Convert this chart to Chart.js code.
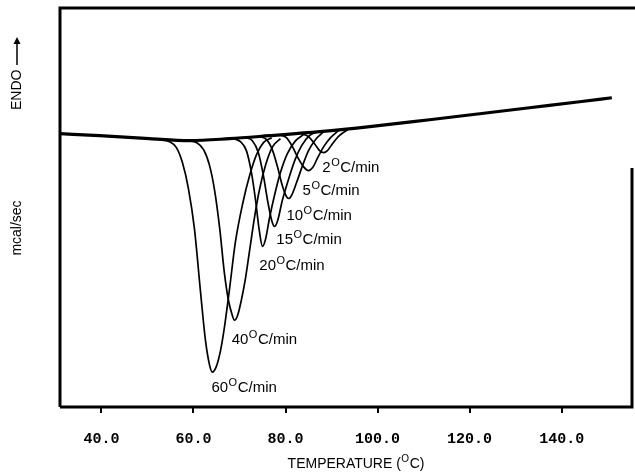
<!DOCTYPE html>
<html>
<head>
<meta charset="utf-8">
<script src="https://cdn.jsdelivr.net/npm/chart.js@4"></script>
<style>
html, body { margin: 0; padding: 0; background: #fff; }
</style>
</head>
<body>
<canvas id="dsc" width="635" height="474"></canvas>
<script>
// temperature axis ticks (deg C)
var tempTicks = [40, 60, 80, 100, 120, 140];

// common baseline (all runs overlap here)
var baseT = [30.9, 39.6, 50.4, 59.1, 67.8, 76.5, 87.4, 98.3, 111.3, 122.2, 133.0, 143.9, 150.9];
var baseY = [27.4, 27.2, 26.9, 26.7, 26.9, 27.2, 27.6, 28.1, 28.8, 29.4, 30.0, 30.6, 31.0];

// melting endotherms, one per heating rate
var peak60T = [52.6, 54.8, 56.3, 57.6, 58.9, 60.2, 61.5, 62.6, 63.5, 64.1, 65.0, 65.9, 66.7, 67.8, 69.1, 70.7, 72.2, 73.7, 75.2, 77.0];
var peak60Y = [26.8, 26.6, 26.0, 24.5, 21.9, 17.9, 11.7, 6.7, 4.2, 3.5, 4.1, 5.7, 7.9, 11.7, 16.5, 20.4, 23.2, 25.3, 26.5, 27.0];

var peak40T = [58.7, 60.7, 62.2, 63.5, 64.6, 65.7, 66.7, 67.6, 68.3, 68.9, 69.6, 70.4, 71.3, 72.2, 73.3, 74.3, 75.7, 77.2, 78.9];
var peak40Y = [26.7, 26.5, 25.8, 24.2, 21.7, 17.9, 13.5, 10.7, 9.4, 8.7, 9.2, 10.7, 12.9, 15.7, 19.1, 21.7, 24.3, 26.1, 26.9];

var peak20T = [68.7, 70.2, 71.5, 72.6, 73.5, 74.3, 75.0, 75.7, 76.5, 77.6, 78.9, 80.4, 82.2, 83.9];
var peak20Y = [26.9, 26.6, 25.7, 23.5, 20.7, 17.7, 16.1, 16.9, 18.9, 21.2, 23.5, 25.4, 26.7, 27.3];

var peak15T = [71.3, 72.8, 74.1, 75.2, 76.1, 77.0, 77.6, 78.3, 79.3, 80.7, 82.0, 83.5, 85.2, 87.0];
var peak15Y = [27.0, 26.7, 25.5, 23.2, 20.7, 18.7, 18.1, 18.7, 20.7, 22.9, 24.7, 26.2, 27.2, 27.6];

var peak10T = [74.3, 75.9, 77.2, 78.3, 79.3, 80.2, 80.7, 81.3, 82.4, 83.7, 85.0, 86.5, 88.3];
var peak10Y = [27.1, 26.8, 25.7, 24.0, 22.2, 21.1, 20.9, 21.2, 22.5, 24.2, 25.7, 26.8, 27.6];

var peak5T = [78.7, 80.2, 81.5, 82.8, 83.9, 85.0, 85.9, 87.0, 88.3, 89.8, 91.5];
var peak5Y = [27.3, 27.0, 26.1, 24.9, 24.1, 23.7, 24.0, 25.0, 26.1, 27.0, 27.7];

var peak2T = [83.5, 85.0, 86.3, 87.4, 88.3, 89.1, 90.2, 91.7, 93.5];
var peak2Y = [27.4, 27.1, 26.4, 25.7, 25.5, 25.7, 26.4, 27.2, 27.8];

// heating-rate labels and where they sit (T, signal)
var rateNames = ['2', '5', '10', '15', '20', '40', '60'];
var rateLabelAt = [[88.0, 24.0], [83.7, 21.7], [80.2, 19.2], [78.0, 16.8], [74.3, 14.1], [68.3, 6.7], [63.9, 1.9]];

function pts(ts, ys) {
  return ts.map(function (t, i) { return { x: t, y: ys[i] }; });
}

function curve(ts, ys, w) {
  return {
    data: pts(ts, ys),
    borderColor: '#000',
    borderWidth: w,
    pointRadius: 0,
    fill: false,
    cubicInterpolationMode: 'monotone'
  };
}

// draws "60", small raised O, then rest
function degText(ctx, x, y, lead, tail, size) {
  ctx.font = size + 'px "Liberation Sans"';
  ctx.textBaseline = 'middle';
  ctx.textAlign = 'left';
  ctx.fillText(lead, x, y);
  x += ctx.measureText(lead).width + 0.5;
  ctx.font = Math.round(size * 0.7) + 'px "Liberation Sans"';
  ctx.fillText('O', x, y - size * 0.33);
  x += ctx.measureText('O').width + 0.5;
  ctx.font = size + 'px "Liberation Sans"';
  ctx.fillText(tail, x, y);
  return x + ctx.measureText(tail).width;
}

var decor = {
  id: 'decor',
  afterDraw: function (chart) {
    var ctx = chart.ctx;
    var a = chart.chartArea;
    var xs = chart.scales.x, ys = chart.scales.y;
    ctx.save();
    ctx.strokeStyle = '#000';
    ctx.fillStyle = '#000';

    // frame; right side broken near the top like the original trace
    ctx.lineWidth = 3;
    ctx.beginPath();
    ctx.moveTo(a.left, a.bottom);
    ctx.lineTo(a.left, a.top);
    ctx.lineTo(a.right + 2, a.top);
    ctx.moveTo(a.right - 1, a.top + 160);
    ctx.lineTo(a.right - 1, a.bottom);
    ctx.lineTo(a.left, a.bottom);
    ctx.stroke();

    // rate labels
    for (var i = 0; i < rateNames.length; i++) {
      var p = rateLabelAt[i];
      degText(ctx, xs.getPixelForValue(p[0]), ys.getPixelForValue(p[1]), rateNames[i], 'C/min', 15);
    }

    // x title
    ctx.font = '14px "Liberation Sans"';
    var w1 = ctx.measureText('TEMPERATURE (').width;
    ctx.font = '10px "Liberation Sans"';
    var w2 = ctx.measureText('O').width;
    ctx.font = '14px "Liberation Sans"';
    var w3 = ctx.measureText('C)').width;
    degText(ctx, 356 - (w1 + w2 + w3 + 1) / 2, 464, 'TEMPERATURE (', 'C)', 14);

    // y labels, rotated
    ctx.translate(17, 0);
    ctx.rotate(-Math.PI / 2);
    ctx.font = '14px "Liberation Sans"';
    ctx.textAlign = 'left';
    ctx.textBaseline = 'middle';
    ctx.fillText('ENDO', -110, 0);
    ctx.lineWidth = 1.5;
    ctx.beginPath();
    ctx.moveTo(-65, 0);
    ctx.lineTo(-42, 0);
    ctx.stroke();
    ctx.beginPath();
    ctx.moveTo(-37, 0);
    ctx.lineTo(-44, -3.5);
    ctx.lineTo(-44, 3.5);
    ctx.closePath();
    ctx.fill();
    ctx.textAlign = 'center';
    ctx.fillText('mcal/sec', -228, 0);
    ctx.restore();
  }
};

new Chart(document.getElementById('dsc'), {
  type: 'line',
  data: {
    datasets: [
      curve(baseT, baseY, 3.2),
      curve(peak60T, peak60Y, 1.7),
      curve(peak40T, peak40Y, 1.7),
      curve(peak20T, peak20Y, 1.7),
      curve(peak15T, peak15Y, 1.7),
      curve(peak10T, peak10Y, 1.7),
      curve(peak5T, peak5Y, 1.7),
      curve(peak2T, peak2Y, 1.7)
    ]
  },
  options: {
    responsive: false,
    animation: false,
    events: [],
    layout: { padding: { left: 60, top: 8, right: 2, bottom: 0 } },
    plugins: { legend: { display: false }, tooltip: { enabled: false } },
    scales: {
      x: {
        type: 'linear',
        min: 31,
        max: 155.5,
        border: { display: false },
        grid: { drawOnChartArea: false, drawTicks: true, tickLength: 6, color: '#000', lineWidth: 2 },
        afterBuildTicks: function (axis) {
          axis.ticks = tempTicks.map(function (v) { return { value: v }; });
        },
        afterFit: function (axis) { axis.height = 67; },
        ticks: {
          color: '#000',
          padding: 17,
          maxRotation: 0,
          font: { family: '"Liberation Mono"', size: 15, weight: 'bold' },
          callback: function (v) { return Number(v).toFixed(1); }
        }
      },
      y: {
        display: false,
        min: 0,
        max: 40
      }
    }
  },
  plugins: [decor]
});
</script>
</body>
</html>
